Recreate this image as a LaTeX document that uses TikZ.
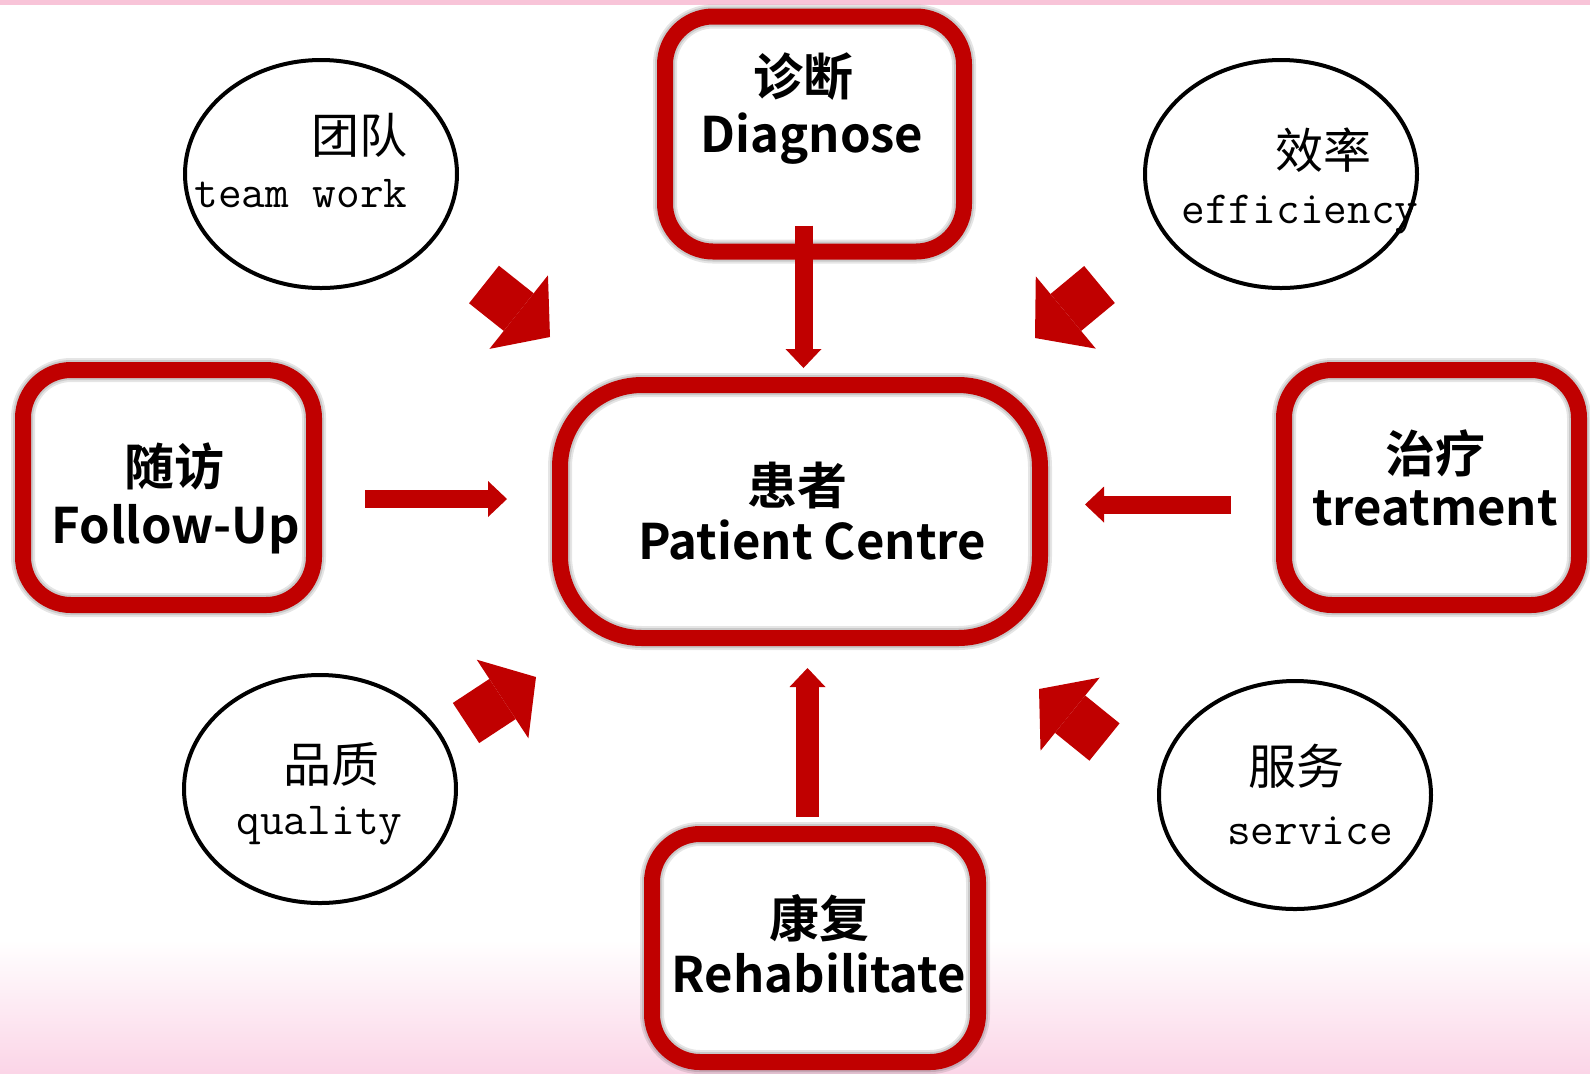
\documentclass[tikz,border=0pt]{standalone}
\usepackage{fontspec}
\usepackage{xcolor}
\usepackage{tikz}
\usetikzlibrary{arrows.meta,shapes.geometric}

\newfontfamily\cjkbold{Noto Sans CJK SC Bold}
\newfontfamily\cjkplain{Noto Sans CJK SC}

\definecolor{deepred}{RGB}{192,0,0}
\definecolor{blush}{RGB}{251,213,231}
\definecolor{topline}{RGB}{248,196,216}

\tikzset{
    redbox/.style={rectangle, rounded corners=24pt, minimum height=117.5pt,
        preaction={fill=white},
        preaction={draw=black, draw opacity=0.10, line width=12pt},
        preaction={draw=black, draw opacity=0.12, line width=10pt},
        draw=deepred, line width=8pt},
    bubble/.style={ellipse, draw=black, line width=2pt, inner sep=0pt,
        minimum width=136pt, minimum height=114pt},
    zhbold/.style={font=\cjkbold\fontsize{25}{30}\selectfont, inner sep=0pt},
    enbold/.style={font=\cjkbold\fontsize{24.5}{30}\selectfont, inner sep=0pt, anchor=base},
    zhplain/.style={font=\cjkplain\fontsize{24}{28}\selectfont, inner sep=0pt},
    entype/.style={font=\ttfamily\fontsize{23}{26}\selectfont, inner sep=0pt, anchor=base},
    stem/.style={draw=deepred, line width=9pt, -{Triangle[length=9.5pt, width=18pt, line width=0pt]}},
    fatarrow/.style={draw=deepred, line width=24pt, -{Triangle[length=20pt, width=47pt, line width=0pt]}}
}

\begin{document}
\begin{tikzpicture}[x=0.5pt, y=-0.5pt]
    \useasboundingbox (0,0) rectangle (1590,1073);
    % background
    \fill [white] (0,0) rectangle (1590,1073);
    \fill [topline] (0,0) rectangle (1590,5);
    \shade [top color=white, bottom color=blush] (0,940) rectangle (1590,1073);

    % boxes
    \node [redbox, minimum width=149.5pt] (diag) at (814.5,134) {};
    \node [redbox, minimum width=145.5pt] (follow) at (168.5,487.5) {};
    \node [redbox, minimum width=147.5pt] (treat) at (1431.5,487.5) {};
    \node [redbox, minimum width=163pt, minimum height=114pt] (rehab) at (815,948) {};
    \node [redbox, rounded corners=41pt, minimum width=240pt, minimum height=126.5pt] (pc) at (800,511.5) {};

    \node [zhbold] (diag-zh) at (803,77) {诊断};
    \node [enbold] (diag-en) at (812,152) {Diagnose};
    \node [zhbold] (follow-zh) at (174,466) {随访};
    \node [enbold] (follow-en) at (176,543) {Follow-Up};
    \node [zhbold] (treat-zh) at (1435,453) {治疗};
    \node [enbold] (treat-en) at (1435,525) {treatment};
    \node [zhbold] (rehab-zh) at (819,918) {康复};
    \node [enbold] (rehab-en) at (819,992) {Rehabilitate};
    \node [zhbold] (pc-zh) at (797,485) {患者};
    \node [enbold] (pc-en) at (812,559) {Patient Centre};

    % ellipses
    \node [bubble] (team) at (321,174) {};
    \node [bubble] (eff) at (1281,174) {};
    \node [bubble] (qual) at (320,789) {};
    \node [bubble] (serv) at (1295,795) {};

    \node [zhplain] (team-zh) at (359,135) {团队};
    \node [entype] (team-en) at (301,207) {team work};
    \node [zhplain] (eff-zh) at (1323,150) {效率};
    \node [entype] (eff-en) at (1300,223) {efficiency};
    \node [zhplain] (qual-zh) at (331,764) {品质};
    \node [entype] (qual-en) at (319.5,834) {quality};
    \node [zhplain] (serv-zh) at (1296,766) {服务};
    \node [entype] (serv-en) at (1310,844) {service};

    % arrows into the centre
    \draw [stem, shorten <=-17pt, shorten >=4.5pt] ([xshift=-5.5pt]diag.south) -- ([xshift=-5.5pt]diag.south |- pc.north);
    \draw [stem, shorten <=21.5pt, shorten >=22.5pt] ([yshift=-5.75pt]follow.east) -- ([yshift=-5.75pt]follow.east -| pc.west);
    \draw [stem, shorten <=22.5pt, shorten >=18.5pt] ([yshift=-8.5pt]treat.west) -- ([yshift=-8.5pt]treat.west -| pc.east);
    \draw [stem, line width=11.5pt, shorten <=4.5pt, shorten >=11pt] ([xshift=-3.75pt]rehab.north) -- ([xshift=-3.75pt]rehab.north |- pc.south);

    \coordinate (tl-a) at (484,284.5);
    \coordinate (tl-b) at (550,337);
    \coordinate (tr-a) at (1099.5,284.5);
    \coordinate (tr-b) at (1035,338);
    \coordinate (bl-a) at (466,723);
    \coordinate (bl-b) at (536,677);
    \coordinate (br-a) at (1104.5,742);
    \coordinate (br-b) at (1039,689);
    \draw [fatarrow] (tl-a) -- (tl-b);
    \draw [fatarrow] (tr-a) -- (tr-b);
    \draw [fatarrow] (bl-a) -- (bl-b);
    \draw [fatarrow] (br-a) -- (br-b);
\end{tikzpicture}
\end{document}
